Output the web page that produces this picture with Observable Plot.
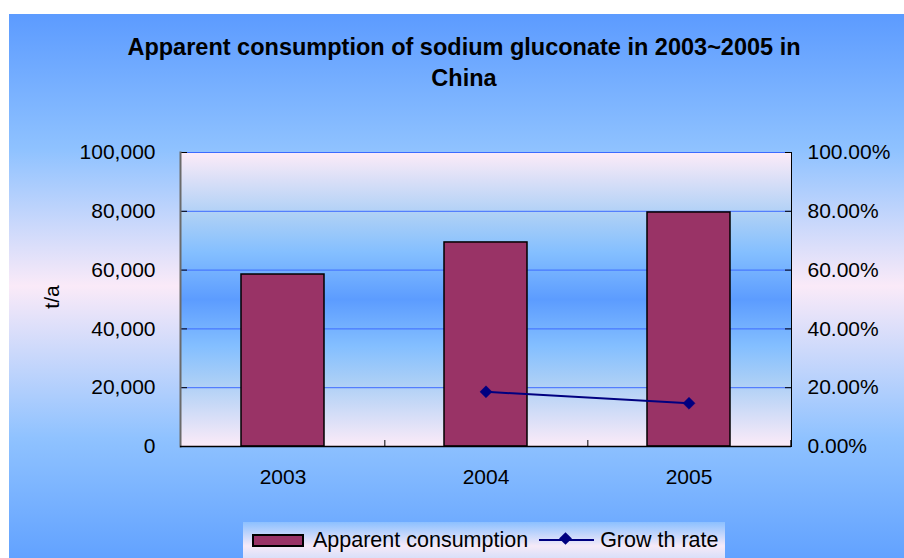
<!DOCTYPE html>
<html><head><meta charset="utf-8">
<script src="https://cdn.jsdelivr.net/npm/d3@7"></script>
<script src="https://cdn.jsdelivr.net/npm/@observablehq/plot@0.6"></script>
<style>
body{margin:0;background:#fff;font-family:"Liberation Sans",Arial,sans-serif;}
#wrap{position:relative;width:904px;height:558px;overflow:hidden;background:#fff;}
#bg{position:absolute;left:9px;top:14px;right:0;bottom:0;
 background:linear-gradient(to bottom,#5C9BFF 0%,#8FC2FF 25%,#FAEAF8 50%,#8FC2FF 78%,#62A2FF 100%);}
#title{position:absolute;left:24px;right:0;top:32px;text-align:center;font-weight:bold;font-size:23.5px;line-height:31px;color:#000;}
#chart{position:absolute;left:0;top:0;}
#ylab{position:absolute;left:52px;top:297px;transform:translate(-50%,-50%) rotate(-90deg);font-size:21px;color:#000;white-space:nowrap;}
#legend{position:absolute;left:243px;top:522px;width:482px;height:40px;display:flex;align-items:center;padding-bottom:4px;box-sizing:border-box;
 background:linear-gradient(to bottom,#8CC0FF 0%,#F6EAF8 60%,#D0DCFA 100%);font-size:21.5px;color:#000;}
.sw{display:inline-block;box-sizing:border-box;width:52px;height:13px;background:#993366;border:2px solid #000;margin-left:9px;margin-right:9px;}
.ln{position:relative;display:inline-block;width:55px;height:2px;background:#000080;margin-left:11px;margin-right:6px;}
.ln::after{content:"";position:absolute;left:22px;top:-5px;width:9px;height:9px;background:#000080;transform:rotate(45deg);}
</style></head>
<body>
<div id="wrap">
 <div id="bg"></div>
 <div id="title">Apparent consumption of sodium gluconate in 2003~2005 in<br>China</div>
 <div id="chart"></div>
 <div id="ylab">t/a</div>
 <div id="legend"><span class="sw"></span><span>Apparent consumption</span><span class="ln"></span><span>Grow th rate</span></div>
</div>
<script>
const years = ["2003", "2004", "2005"];
const consumption = [58500, 69400, 79600];
const growthYears = ["2004", "2005"];
const growthRate = [0.186, 0.147];
const leftTicks = [0, 20000, 40000, 60000, 80000, 100000];
const rightTicks = [0, 0.2, 0.4, 0.6, 0.8, 1.0];

const leftMax = 100000, rightMax = 1.0;
const toY = v => v * leftMax / rightMax;

const barData = years.map((y, i) => ({year: y, value: consumption[i]}));
const lineData = growthYears.map((y, i) => ({year: y, g: growthRate[i]}));

const W = 904, H = 500, mL = 180, mR = 113, mT = 152, mB = 54;
const step = (W - mL - mR) / years.length;

const defs = () => {
  const d = d3.create("svg:defs");
  const g = d.append("linearGradient").attr("id", "plotbg").attr("x1", 0).attr("y1", 0).attr("x2", 0).attr("y2", 1);
  [[0, "#FCEBF8"], [0.22, "#ABCFF6"], [0.34, "#84BFFF"], [0.5, "#5C9CFF"], [0.66, "#84BFFF"], [0.78, "#ABCFF6"], [1, "#FCEBF8"]]
    .forEach(([o, c]) => g.append("stop").attr("offset", o).attr("stop-color", c));
  return d.node();
};

const chart = Plot.plot({
  width: W, height: H,
  marginLeft: mL, marginRight: mR, marginTop: mT, marginBottom: mB,
  style: {background: "transparent", fontFamily: "'Liberation Sans', Arial, sans-serif", fontSize: "21px", color: "#000", overflow: "visible"},
  x: {type: "band", domain: years, paddingInner: 0.59, paddingOuter: 0.295, axis: null},
  y: {domain: [0, leftMax], axis: null},
  marks: [
    defs,
    Plot.frame({fill: "url(#plotbg)", stroke: null}),
    Plot.gridY(leftTicks, {stroke: "#3D6BFF", strokeOpacity: 1, strokeWidth: 1}),
    Plot.barY(barData, {x: "year", y: "value", fill: "#993366", stroke: "#000", strokeWidth: 1.5}),
    Plot.lineY(lineData, {x: "year", y: d => toY(d.g), stroke: "#000080", strokeWidth: 2}),
    Plot.dot(lineData, {x: "year", y: d => toY(d.g), symbol: "diamond2", r: 5.4, fill: "#000080", stroke: "#000080", strokeWidth: 0.5}),
    Plot.axisY(leftTicks, {anchor: "left", tickSize: 0, tickPadding: 25, tickFormat: d3.format(","), label: null, fontSize: 21}),
    Plot.axisY(leftTicks, {anchor: "left", tickSize: 7, dx: 7, tickFormat: () => "", label: null, stroke: "#000"}),
    Plot.axisY(rightTicks.map(toY), {anchor: "right", tickSize: 0, tickPadding: 16, tickFormat: d => (d / leftMax * rightMax * 100).toFixed(2) + "%", label: null, fontSize: 21}),
    Plot.axisY(rightTicks.map(toY), {anchor: "right", tickSize: 7, dx: -7, tickFormat: () => "", label: null, stroke: "#000"}),
    Plot.axisX({tickSize: 0, tickPadding: 23, label: null, fontSize: 21}),
    Plot.axisX({tickSize: 6, dy: -6, dx: step / 2, tickFormat: () => "", label: null, stroke: "#000"}),
    Plot.frame({anchor: "left", stroke: "#6a6a6a", strokeWidth: 2}),
    Plot.frame({anchor: "right", stroke: "#000", strokeWidth: 1}),
    Plot.ruleY([0], {stroke: "#000", strokeWidth: 1.5})
  ]
});
document.getElementById("chart").appendChild(chart);
</script>
</body></html>
